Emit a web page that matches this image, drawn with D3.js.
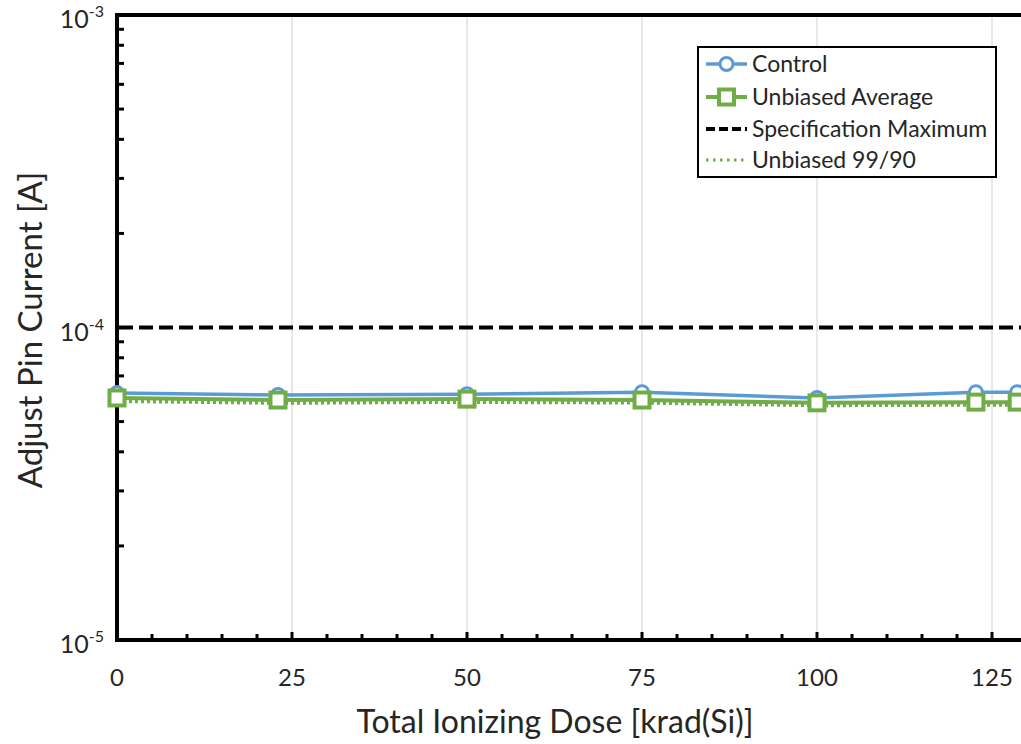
<!DOCTYPE html>
<html>
<head>
<meta charset="utf-8">
<script src="https://d3js.org/d3.v7.min.js"></script>
<style>
  body { margin: 0; background: #fff; }
  svg { display: block; font-family: Lato, "Open Sans", sans-serif; }
</style>
</head>
<body>
<div id="chart"></div>
<script>
// dose points [krad(Si)]
const dose = [0, 23, 50, 75, 100, 122.7, 128.6];
const control = [6.17e-5, 6.08e-5, 6.12e-5, 6.21e-5, 5.95e-5, 6.21e-5, 6.21e-5];
const unbiasedAvg = [5.95e-5, 5.86e-5, 5.9e-5, 5.86e-5, 5.74e-5, 5.77e-5, 5.77e-5];
const unbiased9990 = [5.82e-5, 5.74e-5, 5.78e-5, 5.75e-5, 5.64e-5, 5.66e-5, 5.66e-5];
const specMax = 1e-4;
const xTicks = [0, 25, 50, 75, 100, 125, 150];
const yDecades = [-5, -4, -3];
const legendLabels = ["Control", "Unbiased Average", "Specification Maximum", "Unbiased 99/90"];

const blue = "#5B9BD5", green = "#70AD47";
const W = 1021, H = 744;
const plotLeft = 117, plotTop = 15, plotBottom = 640;
const sq = 15; // square marker size

const svg = d3.select("#chart").append("svg")
  .attr("width", W)
  .attr("height", H);

const x = d3.scaleLinear().domain([0, 150]).range([plotLeft, plotLeft + 1050]);
const y = d3.scaleLog().domain([1e-5, 1e-3]).range([plotBottom, plotTop]);

// vertical gridlines
svg.append("g").selectAll("line")
  .data(xTicks.filter(d => d > 0))
  .join("line")
  .attr("x1", d => x(d)).attr("x2", d => x(d))
  .attr("y1", plotTop).attr("y2", plotBottom)
  .attr("stroke", "#d9d9d9").attr("stroke-width", 1.2);

// x minor ticks every 5
const xMinor = d3.range(5, 151, 5);
svg.append("g").selectAll("line")
  .data(xMinor)
  .join("line")
  .attr("x1", d => x(d)).attr("x2", d => x(d))
  .attr("y1", plotBottom).attr("y2", d => d % 25 === 0 ? plotBottom - 8 : plotBottom - 6)
  .attr("stroke", "#000").attr("stroke-width", 3);

// y minor ticks
const yMinor = [];
[-5, -4].forEach(e => { for (let m = 2; m <= 9; m++) yMinor.push(m * Math.pow(10, e)); });
yMinor.push(1e-4);
svg.append("g").selectAll("line")
  .data(yMinor)
  .join("line")
  .attr("x1", plotLeft).attr("x2", plotLeft + 7)
  .attr("y1", d => y(d)).attr("y2", d => y(d))
  .attr("stroke", "#000").attr("stroke-width", 3);

// axes frame
svg.append("path")
  .attr("d", `M${W + 5},${plotTop}H${plotLeft}V${plotBottom}H${W + 5}`)
  .attr("fill", "none").attr("stroke", "#000").attr("stroke-width", 4);

// x tick labels
svg.append("g").selectAll("text")
  .data(xTicks.filter(d => x(d) < W))
  .join("text")
  .attr("x", d => Math.min(x(d), W - 23)).attr("y", 686)
  .attr("text-anchor", "middle")
  .attr("font-size", 24)
  .attr("fill", "#262626")
  .text(d => d);

// y tick labels 10^n
const yl = svg.append("g").selectAll("text")
  .data(yDecades)
  .join("text")
  .attr("x", 104).attr("y", d => y(Math.pow(10, d)) + 13)
  .attr("text-anchor", "end")
  .attr("font-size", 25)
  .attr("fill", "#262626");
yl.append("tspan").text("10");
yl.append("tspan").attr("dy", -11).attr("font-size", 16).text(d => "-" + Math.abs(d));

// axis titles
svg.append("text")
  .attr("x", 555).attr("y", 733)
  .attr("text-anchor", "middle")
  .attr("font-size", 32)
  .attr("fill", "#262626")
  .text("Total Ionizing Dose [krad(Si)]");
svg.append("text")
  .attr("transform", "translate(42,330) rotate(-90)")
  .attr("text-anchor", "middle")
  .attr("font-size", 33)
  .attr("fill", "#262626")
  .text("Adjust Pin Current [A]");

// spec max line
svg.append("line")
  .attr("x1", plotLeft + 2).attr("x2", W + 5)
  .attr("y1", y(specMax)).attr("y2", y(specMax))
  .attr("stroke", "#000").attr("stroke-width", 4)
  .attr("stroke-dasharray", "14,6");

const line = d3.line().x(d => x(d[0])).y(d => y(d[1]));

// control
svg.append("path")
  .datum(d3.zip(dose, control))
  .attr("d", line)
  .attr("fill", "none").attr("stroke", blue).attr("stroke-width", 3.5);
svg.append("g").selectAll("circle")
  .data(d3.zip(dose, control))
  .join("circle")
  .attr("cx", d => x(d[0])).attr("cy", d => y(d[1]))
  .attr("r", 6.5)
  .attr("fill", "#fff").attr("stroke", blue).attr("stroke-width", 3);

// unbiased average
svg.append("path")
  .datum(d3.zip(dose, unbiasedAvg))
  .attr("d", line)
  .attr("fill", "none").attr("stroke", green).attr("stroke-width", 4);

// unbiased 99/90 (dotted)
svg.append("path")
  .datum(d3.zip(dose, unbiased9990))
  .attr("d", line)
  .attr("fill", "none").attr("stroke", green).attr("stroke-width", 4)
  .attr("stroke-dasharray", "3,3");

svg.append("g").selectAll("rect")
  .data(d3.zip(dose, unbiasedAvg))
  .join("rect")
  .attr("x", d => x(d[0]) - sq / 2).attr("y", d => y(d[1]) - sq / 2)
  .attr("width", sq).attr("height", sq)
  .attr("fill", "#fff").attr("stroke", green).attr("stroke-width", 4);

// legend
const lg = svg.append("g");
lg.append("rect")
  .attr("x", 698).attr("y", 47)
  .attr("width", 298).attr("height", 130)
  .attr("fill", "#fff").attr("stroke", "#000").attr("stroke-width", 2);

const rowY = [64, 97, 129, 160];
const lx1 = 706, lx2 = 747, lxm = 726.5;
legendLabels.forEach((lab, i) => {
  const ly = rowY[i];
  const ln = lg.append("line")
    .attr("x1", lx1).attr("x2", lx2).attr("y1", ly).attr("y2", ly);
  if (i === 0) {
    ln.attr("stroke", blue).attr("stroke-width", 3.5);
    lg.append("circle").attr("cx", lxm).attr("cy", ly).attr("r", 6.5)
      .attr("fill", "#fff").attr("stroke", blue).attr("stroke-width", 3);
  } else if (i === 1) {
    ln.attr("stroke", green).attr("stroke-width", 4);
    lg.append("rect").attr("x", lxm - sq / 2).attr("y", ly - sq / 2).attr("width", sq).attr("height", sq)
      .attr("fill", "#fff").attr("stroke", green).attr("stroke-width", 4);
  } else if (i === 2) {
    ln.attr("stroke", "#000").attr("stroke-width", 4).attr("stroke-dasharray", "9,4");
  } else {
    ln.attr("stroke", green).attr("stroke-width", 3).attr("stroke-dasharray", "2.5,4.5");
  }
  lg.append("text")
    .attr("x", 752).attr("y", ly + 8)
    .attr("font-size", 23)
    .attr("fill", "#262626")
    .text(lab);
});
</script>
</body>
</html>
